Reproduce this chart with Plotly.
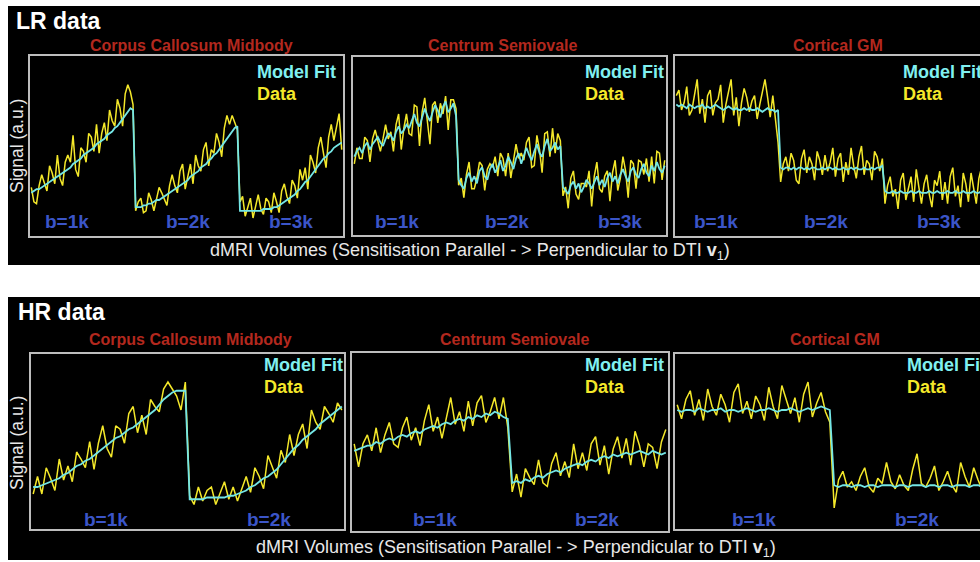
import plotly.graph_objects as go

W, H = 980, 562

# ---------------- data (signal in arbitrary units, 0-100 box scale) ----------------
regions = ["Corpus Callosum Midbody", "Centrum Semiovale", "Cortical GM"]
lr_shells = ["b=1k", "b=2k", "b=3k"]
hr_shells = ["b=1k", "b=2k"]

# LR data: 3 shells x 40 volumes
lr_cc_fit_b1 = [24,25,26,26,27,28,29,30,31,32,33,34,35,36,37,38,40,41,42,43,45,46,47,48,49,51,52,53,54,56,57,58,60,61,63,65,67,69,71,70]
lr_cc_fit_b2 = [16,16,16,17,17,18,18,19,20,20,21,22,23,24,25,26,27,28,29,30,31,33,34,35,36,38,39,40,42,43,45,46,48,50,52,54,56,58,60,61]
lr_cc_fit_b3 = [14,14,14,14,14,14,14,14,14,15,15,15,15,16,16,17,18,19,20,21,22,23,25,26,28,30,31,33,35,37,39,41,43,44,46,47,49,50,51,52]
lr_cc_dat_b1 = [27,19,18,28,34,29,25,39,35,29,45,32,28,41,45,41,56,37,33,49,47,41,57,55,47,62,46,57,63,53,70,64,61,76,71,61,79,84,80,73]
lr_cc_dat_b2 = [14,19,21,13,14,24,20,14,21,27,24,20,17,28,34,28,24,36,40,26,33,40,29,45,39,36,48,52,39,48,46,57,52,44,60,67,62,67,63,59]
lr_cc_dat_b3 = [19,22,11,16,21,10,17,23,15,12,21,19,13,24,19,13,25,29,22,18,31,28,21,37,31,38,26,45,41,35,49,55,46,38,55,62,53,61,68,48]

lr_cs_fit_b1 = [44,47,49,46,50,52,48,51,53,55,52,50,54,57,56,53,58,61,57,59,62,60,64,68,63,61,66,71,67,64,69,73,70,66,72,75,69,71,74,67]
lr_cs_fit_b2 = [31,28,26,32,35,30,33,29,36,38,33,31,37,40,35,38,42,36,39,44,41,37,43,46,40,44,49,45,42,47,51,46,44,50,54,47,49,52,48,50]
lr_cs_fit_b3 = [27,25,23,28,30,26,29,24,27,31,29,26,30,33,28,31,27,32,35,30,33,29,34,37,33,30,36,38,34,32,37,40,35,33,39,36,41,37,35,39]
lr_cs_dat_b1 = [40,49,43,43,55,53,41,54,59,53,47,54,62,54,58,47,62,68,48,60,68,57,56,73,72,50,69,77,65,51,73,75,63,74,68,78,59,76,76,71]
lr_cs_dat_b2 = [28,32,21,34,41,26,26,32,41,39,25,37,40,38,44,33,46,43,33,46,32,42,51,43,46,42,52,55,38,39,56,48,35,57,58,44,60,46,57,53]
lr_cs_dat_b3 = [22,27,15,32,36,23,20,29,29,27,36,16,33,41,26,24,33,36,19,35,42,25,32,44,36,21,42,40,26,42,41,34,43,30,44,29,47,46,31,42]

lr_gm_fit_b1 = [73,72,73,72,71,73,72,71,72,72,73,71,72,71,72,73,72,71,70,71,72,71,70,71,70,70,71,70,71,70,70,71,70,69,70,71,70,70,69,70]
lr_gm_fit_b2 = [38,37,38,38,37,38,37,38,38,37,38,37,38,38,37,37,38,37,38,38,37,38,37,37,38,37,37,38,37,38,37,37,38,37,37,38,37,38,38,39]
lr_gm_fit_b3 = [25,24,24,25,24,24,25,24,24,24,25,24,24,25,24,24,24,25,24,24,25,24,24,24,25,24,24,25,24,24,25,24,24,24,25,24,24,25,24,24]
lr_gm_dat_b1 = [78,81,70,74,83,67,70,78,87,68,76,63,78,81,67,74,76,84,63,73,81,87,67,77,61,74,82,77,69,75,78,65,73,81,87,77,66,78,63,52]
lr_gm_dat_b2 = [30,40,44,36,46,42,31,29,43,48,35,44,40,31,47,42,34,45,36,41,49,33,43,46,30,41,34,49,39,32,44,50,34,42,40,31,47,44,36,43]
lr_gm_dat_b3 = [18,28,33,22,26,15,31,35,20,27,33,19,37,27,18,29,34,23,16,31,28,36,20,30,18,33,38,22,28,16,35,29,19,35,27,18,32,38,21,30]

# HR data: 2 shells x 36 volumes
hr_cc_fit_b1 = [24,24,25,26,27,28,29,31,32,34,36,37,39,40,42,44,46,48,50,52,53,55,57,58,60,62,64,66,68,71,74,76,78,79,79,79]
hr_cc_fit_b2 = [17,17,17,17,18,18,18,18,18,19,19,20,21,22,24,25,27,29,30,32,34,37,40,43,46,48,51,53,55,57,60,62,64,66,68,70]
hr_cc_dat_b1 = [20,30,20,35,29,22,40,28,36,27,44,40,35,50,34,49,59,46,41,59,57,49,66,70,55,65,54,74,70,67,80,84,80,76,68,84]
hr_cc_dat_b2 = [19,14,24,16,22,24,14,21,27,17,24,16,23,30,21,35,30,23,42,36,29,45,38,54,42,54,60,46,68,61,57,70,66,61,72,68]

hr_cs_fit_b1 = [45,46,47,48,48,50,49,51,52,51,53,54,53,55,56,55,57,58,59,58,60,61,60,62,63,62,64,63,65,64,66,65,67,66,64,63]
hr_cs_fit_b2 = [27,28,27,29,28,30,31,30,32,33,34,33,35,36,37,38,37,39,40,39,41,42,41,43,42,43,44,43,44,45,44,43,45,44,43,44]
hr_cs_dat_b1 = [49,36,49,54,45,58,44,54,61,49,47,58,64,51,58,48,62,71,56,64,52,64,75,60,67,56,73,59,72,76,61,67,75,63,75,58]
hr_cs_dat_b2 = [22,32,19,35,30,26,40,27,25,38,44,31,39,30,49,35,44,34,49,53,37,48,32,46,53,41,52,37,56,48,36,49,47,35,50,57]

hr_gm_fit_b1 = [68,67,68,68,67,69,68,67,68,68,69,67,68,68,67,68,69,68,67,68,68,69,68,67,68,68,69,68,67,68,69,68,69,70,69,68]
hr_gm_fit_b2 = [25,24,25,25,24,25,25,24,25,25,24,25,25,25,24,25,25,24,25,25,25,24,25,25,24,25,25,24,25,25,25,24,25,25,24,25]
hr_gm_dat_b1 = [71,63,74,79,65,74,62,80,70,65,77,71,61,78,83,66,73,63,76,71,62,81,70,63,82,74,66,75,61,77,84,64,72,78,67,61]
hr_gm_dat_b2 = [12,28,33,24,27,22,30,35,24,21,29,26,38,27,23,31,25,22,34,43,26,24,29,36,22,27,33,25,21,38,30,24,35,28,22,33]

panels = [
    ([lr_cc_dat_b1, lr_cc_dat_b2, lr_cc_dat_b3], [lr_cc_fit_b1, lr_cc_fit_b2, lr_cc_fit_b3]),
    ([lr_cs_dat_b1, lr_cs_dat_b2, lr_cs_dat_b3], [lr_cs_fit_b1, lr_cs_fit_b2, lr_cs_fit_b3]),
    ([lr_gm_dat_b1, lr_gm_dat_b2, lr_gm_dat_b3], [lr_gm_fit_b1, lr_gm_fit_b2, lr_gm_fit_b3]),
    ([hr_cc_dat_b1, hr_cc_dat_b2], [hr_cc_fit_b1, hr_cc_fit_b2]),
    ([hr_cs_dat_b1, hr_cs_dat_b2], [hr_cs_fit_b1, hr_cs_fit_b2]),
    ([hr_gm_dat_b1, hr_gm_dat_b2], [hr_gm_fit_b1, hr_gm_fit_b2]),
]

# ---------------- styling / layout ----------------
YELLOW = "#f4e82a"
CYAN = "#74e6e6"
CYAN_TXT = "#80f0f0"
RED = "#b3281e"
BLUE = "#3b55c8"
BOXC = "#bdbdbd"
FONT = "Liberation Sans, Arial, Helvetica, sans-serif"

def px(x):
    return x / W

def py(y):
    return 1 - y / H

# box pixel geometry: left, right(visible), top, bottom, full box width
boxes = [
    (30, 343, 56, 236, 313),
    (353, 666, 57, 235, 313),
    (675, 980, 56, 236, 313),
    (31, 344, 354, 529, 313),
    (352, 668, 353, 531, 316),
    (675, 980, 354, 529, 314),
]

fig = go.Figure()
layout_axes = {}
for k, (dat, fit) in enumerate(panels):
    n = len(dat[0])
    xs, yd, yf = [], [], []
    for s in range(len(dat)):
        for i in range(n):
            xs.append(s * n + i + 0.5)
            yd.append(dat[s][i])
            yf.append(fit[s][i])
    total = n * len(dat)
    ax = "" if k == 0 else str(k + 1)
    fig.add_trace(go.Scatter(x=xs, y=yd, mode="lines", line=dict(color=YELLOW, width=1.5),
                             xaxis="x" + ax, yaxis="y" + ax, showlegend=False, hoverinfo="skip"))
    fig.add_trace(go.Scatter(x=xs, y=yf, mode="lines", line=dict(color=CYAN, width=1.8),
                             xaxis="x" + ax, yaxis="y" + ax, showlegend=False, hoverinfo="skip"))
    l, r, t, b, full = boxes[k]
    xmax = total * (r - l) / full
    cut = k in (2, 5)
    layout_axes["xaxis" + ax] = dict(domain=[px(l), px(r)], range=[0, xmax], anchor="y" + ax,
                                     showgrid=False, zeroline=False, showticklabels=False, ticks="",
                                     showline=True, linecolor=BOXC, linewidth=1.5, mirror=True)
    layout_axes["yaxis" + ax] = dict(domain=[py(b), py(t)], range=[0, 100], anchor="x" + ax,
                                     showgrid=False, zeroline=False, showticklabels=False, ticks="",
                                     showline=True, linecolor=BOXC, linewidth=1.5, mirror=not cut)

fig.update_layout(**layout_axes)

shapes = [
    dict(type="rect", xref="paper", yref="paper", x0=px(8), x1=1.05, y0=py(265), y1=py(6),
         fillcolor="black", line=dict(width=0), layer="below"),
    dict(type="rect", xref="paper", yref="paper", x0=px(8), x1=1.05, y0=py(560), y1=py(297),
         fillcolor="black", line=dict(width=0), layer="below"),
]

ann = []

def text(x, y, s, size, color, bold=False, xanchor="center", angle=0):
    ann.append(dict(x=px(x), y=py(y), xref="paper", yref="paper", showarrow=False,
                    text=("<b>%s</b>" % s) if bold else s, xanchor=xanchor, yanchor="middle",
                    textangle=angle, font=dict(family=FONT, size=size, color=color)))

text(14, 21, "LR data", 23, "white", bold=True, xanchor="left")
text(16, 312, "HR data", 23, "white", bold=True, xanchor="left")

for cx, cy, name in [(191, 45, regions[0]), (502, 46, regions[1]), (838, 46, regions[2]),
                     (190, 339, regions[0]), (514, 339, regions[1]), (835, 339, regions[2])]:
    text(cx, cy, name, 16, RED, bold=True)

for lx, ly in [(255, 72), (583, 72), (901, 72), (262, 365), (583, 365), (905, 365)]:
    text(lx, ly, "Model Fit", 18, CYAN_TXT, bold=True, xanchor="left")
    text(lx, ly + 22, "Data", 18, YELLOW, bold=True, xanchor="left")

for cx, cy, s in [(67, 221, lr_shells[0]), (188, 221, lr_shells[1]), (291, 221, lr_shells[2]),
                  (397, 221, lr_shells[0]), (507, 221, lr_shells[1]), (620, 221, lr_shells[2]),
                  (716, 221, lr_shells[0]), (826, 221, lr_shells[1]), (939, 221, lr_shells[2]),
                  (106, 519, hr_shells[0]), (269, 519, hr_shells[1]),
                  (435, 519, hr_shells[0]), (597, 519, hr_shells[1]),
                  (754, 519, hr_shells[0]), (917, 519, hr_shells[1])]:
    text(cx, cy, s, 19, BLUE, bold=True)

xt = "dMRI Volumes (Sensitisation Parallel - > Perpendicular to DTI <b>v</b><sub>1</sub>)"
text(470, 251, xt, 18, "#e8e8e8")
text(516, 548, xt, 18, "#e8e8e8")
text(17, 146, "Signal (a.u.)", 17.5, "#e8e8e8", angle=-90)
text(17, 443, "Signal (a.u.)", 17.5, "#e8e8e8", angle=-90)

fig.update_layout(width=W, height=H, margin=dict(l=0, r=0, t=0, b=0),
                  paper_bgcolor="white", plot_bgcolor="rgba(0,0,0,0)",
                  shapes=shapes, annotations=ann, showlegend=False)

fig.write_html("out.html", config={"displayModeBar": False},
               post_script="document.body.style.margin='0';document.body.style.overflow='hidden';")
